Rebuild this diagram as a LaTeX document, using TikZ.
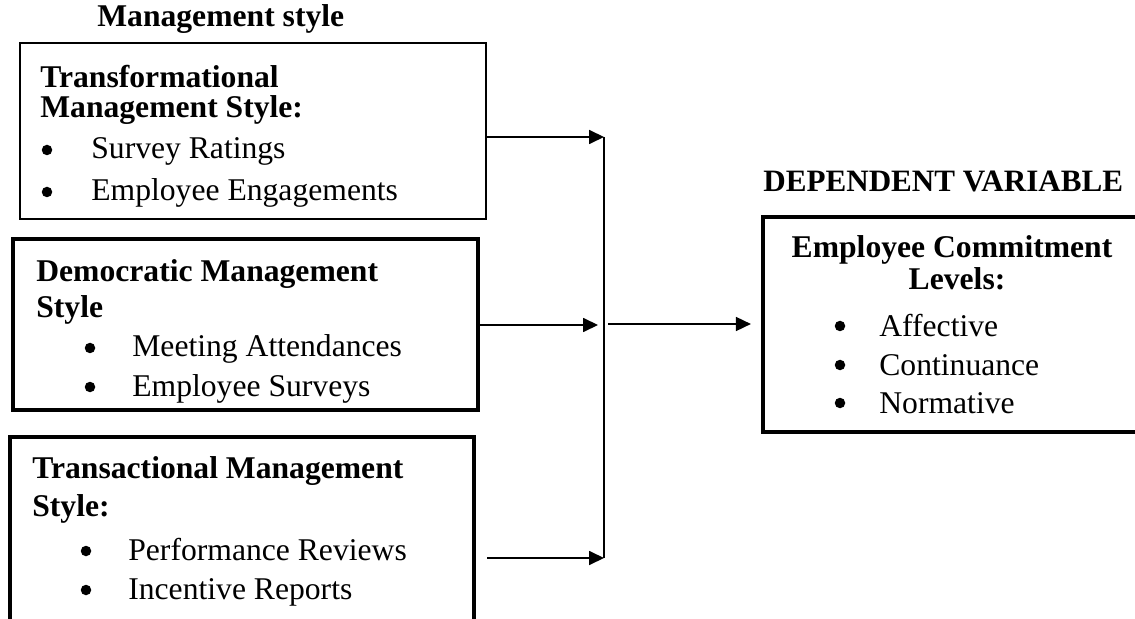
\documentclass[tikz,border=0pt]{standalone}
\usepackage{fontspec}
\setmainfont{Liberation Serif}
\usetikzlibrary{arrows.meta,fit}

\tikzset{
	thinbox/.style={draw, line width=0.85pt, inner sep=0pt},
	thickbox/.style={draw, line width=2.4pt, inner sep=0pt},
	txt/.style={anchor=base west, inner sep=0pt, font=\fontsize{18}{21}\selectfont},
	hd/.style={txt, font=\fontsize{18}{21}\selectfont\bfseries},
	bul/.style={circle, fill, inner sep=0pt, minimum size=2.1mm},
	link/.style={line width=0.75pt, -{Triangle[length=8.5pt,width=8pt]}},
}

\begin{document}
\begin{tikzpicture}[x=0.2mm, y=-0.2mm]
		\clip (0,0) rectangle (1135,619);
		\fill[white] (0,0) rectangle (1135,619);
		
		% DRAW THE BOXES
		\node[thinbox, fit={(20,43) (486,219)}] (transf) {};
		\node[thickbox, fit={(13,239) (478,410)}] (democ) {};
		\node[thickbox, fit={(10,437) (474,660)}] (transa) {};
		\node[thickbox, fit={(763,217) (1170,432)}] (commit) {};
		
		% WRITE THE HEADINGS
		\node[hd] (mgmt) at (97,27) {Management style};
		\node[hd, font=\fontsize{17.7}{21}\selectfont\bfseries] (depvar) at (763,192) {DEPENDENT VARIABLE};
		
		% TRANSFORMATIONAL
		\node[hd] (tf1) at (40,87.5) {Transformational};
		\node[hd] (tf2) at (40,118) {Management Style:};
		\node[bul] (tfb1) at (47,150) {};
		\node[txt] (tfi1) at (91,159) {Survey Ratings};
		\node[bul] (tfb2) at (47,192) {};
		\node[txt] (tfi2) at (91,201) {Employee Engagements};
		
		% DEMOCRATIC
		\node[hd] (dm1) at (36,282) {Democratic Management};
		\node[hd] (dm2) at (36,318) {Style};
		\node[bul] (dmb1) at (90,348) {};
		\node[txt] (dmi1) at (132,357) {Meeting Attendances};
		\node[bul] (dmb2) at (90,387) {};
		\node[txt] (dmi2) at (132,396) {Employee Surveys};
		
		% TRANSACTIONAL
		\node[hd] (ta1) at (32,478) {Transactional Management};
		\node[hd] (ta2) at (32,516) {Style:};
		\node[bul] (tab1) at (86,551) {};
		\node[txt] (tai1) at (128,560) {Performance Reviews};
		\node[bul] (tab2) at (86,590) {};
		\node[txt] (tai2) at (128,599) {Incentive Reports};
		
		% EMPLOYEE COMMITMENT
		\node[hd, anchor=base] (ec1) at (952,258) {Employee Commitment};
		\node[hd, anchor=base] (ec2) at (957,290) {Levels:};
		\node[bul] (ecb1) at (840,326) {};
		\node[txt] (eci1) at (879,336) {Affective};
		\node[bul] (ecb2) at (840,365) {};
		\node[txt] (eci2) at (879,375) {Continuance};
		\node[bul] (ecb3) at (840,403) {};
		\node[txt] (eci3) at (879,413) {Normative};
		
		% PLACE THE ARROWS
		\coordinate (bus1) at (604,137);
		\coordinate (bus2) at (604,325);
		\coordinate (bus3) at (604,558);
		\coordinate (out) at (608,324);
		
		\draw[link] (transf.east |- bus1) -- (bus1);
		\draw[link, shorten >=1.2mm] (democ.east |- bus2) -- (bus2);
		\draw[link] ([xshift=2.2mm]transa.east |- bus3) -- (bus3);
		\draw[line width=0.6pt] (bus1) -- (bus3);
		\draw[link, shorten >=2mm] (out) -- (commit.west |- out);
	\end{tikzpicture}
\end{document}
